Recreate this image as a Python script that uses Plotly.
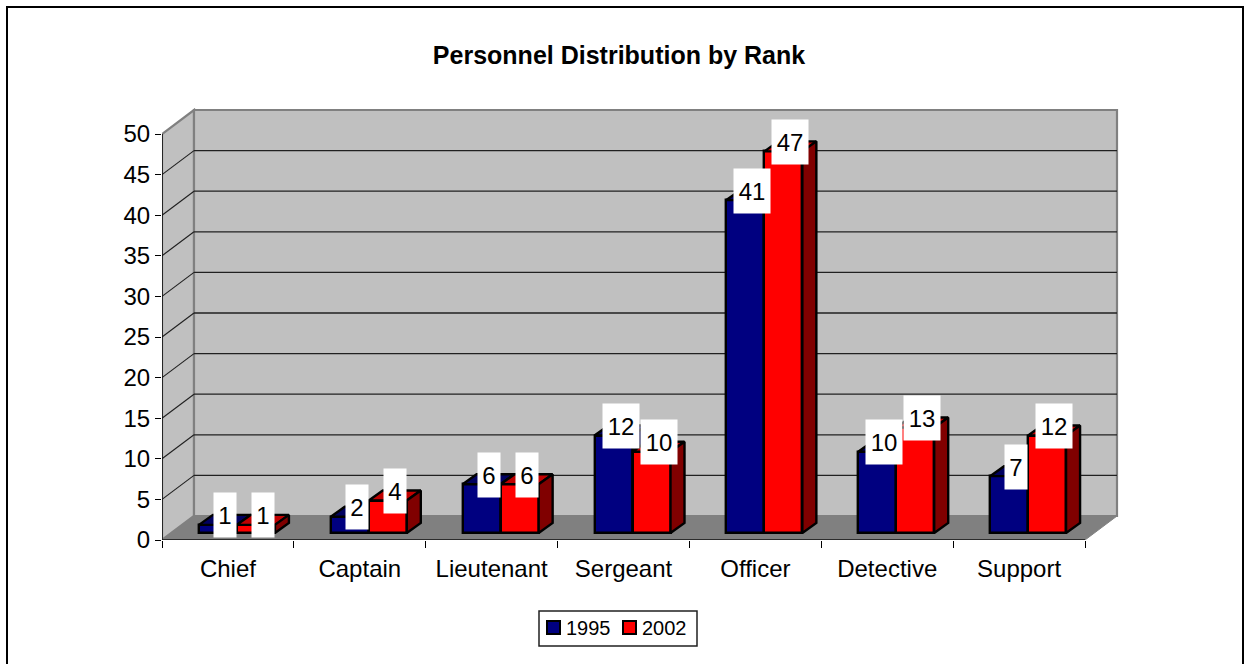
import plotly.graph_objects as go

categories = ["Chief", "Captain", "Lieutenant", "Sergeant", "Officer", "Detective", "Support"]
series_names = ["1995", "2002"]
values_1995 = [1, 2, 6, 12, 41, 10, 7]
values_2002 = [1, 4, 6, 10, 47, 13, 12]
y_ticks = [0, 5, 10, 15, 20, 25, 30, 35, 40, 45, 50]

W, H = 1244, 664
FRONT_L, FRONT_R, FRONT_Y0, FRONT_Y50 = 162, 1085, 540, 134
WALL_DX, WALL_DY = 32, 24
BAR_DX, BAR_DY = 14, 10
BAR_PX = 38
PAD = 4

px_x = (FRONT_R - FRONT_L) / len(categories)
px_y = (FRONT_Y0 - FRONT_Y50) / 50
wall_dx, wall_dy = WALL_DX / px_x, WALL_DY / px_y
bar_dx, bar_dy = BAR_DX / px_x, BAR_DY / px_y
bar_w = BAR_PX / px_x
base = (WALL_DY - BAR_DY) / 2 / px_y
x_shift = (WALL_DX - BAR_DX) / 2 / px_x

plot_right = FRONT_R + WALL_DX + PAD
plot_top = FRONT_Y50 - WALL_DY - PAD
x_range = [0, (plot_right - FRONT_L) / px_x]
y_range = [0, (FRONT_Y0 - plot_top) / px_y]
n = len(categories)

NAVY, RED = "#000080", "#FF0000"
WALL, FLOOR, EDGE = "#C0C0C0", "#808080", "#808080"
FONT = "Liberation Sans, Arial, sans-serif"

plot_w = plot_right - FRONT_L
plot_h = FRONT_Y0 - plot_top


def px2x(p):
    return (p - FRONT_L) / plot_w


def px2y(p):
    return (FRONT_Y0 - p) / plot_h


fig = go.Figure()


def poly_path(pts):
    return "M" + "L".join(f"{a},{b}" for a, b in pts) + "Z"


shapes = [
    dict(type="path", xref="x", yref="y", layer="below", fillcolor=WALL,
         line=dict(color=EDGE, width=2.2),
         path=poly_path([(0, 50), (wall_dx, 50 + wall_dy), (wall_dx, wall_dy), (0, 0)])),
    dict(type="path", xref="x", yref="y", layer="below", fillcolor=WALL,
         line=dict(color=EDGE, width=2.2),
         path=poly_path([(wall_dx, 50 + wall_dy), (n + wall_dx, 50 + wall_dy),
                         (n + wall_dx, wall_dy), (wall_dx, wall_dy)])),
    dict(type="path", xref="x", yref="y", layer="below", fillcolor=FLOOR,
         line=dict(color=FLOOR, width=1),
         path=poly_path([(0, 0), (wall_dx, wall_dy), (n + wall_dx, wall_dy), (n, 0)])),
]
for t in y_ticks[1:-1]:
    shapes.append(dict(type="line", xref="x", yref="y", layer="below",
                       x0=wall_dx, x1=n + wall_dx, y0=t + wall_dy, y1=t + wall_dy,
                       line=dict(color="#202020", width=1.3)))
    shapes.append(dict(type="line", xref="x", yref="y", layer="below",
                       x0=0, x1=wall_dx, y0=t, y1=t + wall_dy,
                       line=dict(color="#202020", width=1.1)))
# outer frame of the chart (its bottom edge runs off the canvas)
shapes.append(dict(type="rect", xref="paper", yref="paper", layer="below",
                   x0=px2x(7), x1=px2x(1243), y0=px2y(672), y1=px2y(7),
                   line=dict(color="black", width=2), fillcolor="rgba(0,0,0,0)"))


def faces(lefts, vals):
    top_x, top_y, side_x, side_y = [], [], [], []
    for xl, v in zip(lefts, vals):
        h = base + v
        xr = xl + bar_w
        top_x += [xl, xr, xr + bar_dx, xl + bar_dx, xl, None]
        top_y += [h, h, h + bar_dy, h + bar_dy, h, None]
        side_x += [xr, xr + bar_dx, xr + bar_dx, xr, xr, None]
        side_y += [h, h + bar_dy, base + bar_dy, base, h, None]
    return top_x, top_y, side_x, side_y


series = [
    (series_names[0], values_1995, NAVY, "#000060", "#000040", 0, "x", "y"),
    (series_names[1], values_2002, RED, "#C00000", "#800000", 1, "x2", "y2"),
]
annotations = []
for name, vals, col, top_col, side_col, k, xa, ya in series:
    lefts = [i + x_shift + 0.5 - bar_w + k * bar_w for i in range(n)]
    centers = [l + bar_w / 2 for l in lefts]
    fig.add_trace(go.Bar(x=centers, y=vals, base=base, width=bar_w, name=name,
                         marker=dict(color=col, line=dict(color="black", width=2.4)),
                         xaxis=xa, yaxis=ya, hoverinfo="skip", showlegend=False))
    tx, ty, sx, sy = faces(lefts, vals)
    fig.add_trace(go.Scatter(x=tx, y=ty, mode="lines", fill="toself", fillcolor=top_col,
                             line=dict(color="black", width=2.4), showlegend=False,
                             hoverinfo="skip", xaxis=xa, yaxis=ya, cliponaxis=False))
    fig.add_trace(go.Scatter(x=sx, y=sy, mode="lines", fill="toself", fillcolor=side_col,
                             line=dict(color="black", width=2.4), showlegend=False,
                             hoverinfo="skip", xaxis=xa, yaxis=ya, cliponaxis=False))
    for c, v in zip(centers, vals):
        annotations.append(dict(x=c, y=base + v, xref="x", yref="y", text=str(v),
                                showarrow=False, bgcolor="white", xshift=7, yshift=9.5,
                                width=22 if v < 10 else 36, height=44,
                                font=dict(family=FONT, size=24, color="black"),
                                xanchor="center", yanchor="middle", borderpad=0))

# front axis lines
fig.add_trace(go.Scatter(x=[0, 0, n], y=[50, 0, 0], mode="lines", line=dict(color="#101010", width=1.6),
                         showlegend=False, hoverinfo="skip", xaxis="x2", yaxis="y2", cliponaxis=False))

# legend box drawn to the reference's compact layout
shapes.append(dict(type="rect", xref="paper", yref="paper", layer="above",
                   x0=px2x(539), x1=px2x(697), y0=px2y(646), y1=px2y(611),
                   line=dict(color="#202020", width=1.5), fillcolor="white"))
for name, col, sw, tx in zip(series_names, [NAVY, RED], [546, 622], [565, 641]):
    shapes.append(dict(type="rect", xref="paper", yref="paper", layer="above",
                       x0=px2x(sw + 1), x1=px2x(sw + 14), y0=px2y(634), y1=px2y(621),
                       line=dict(color="black", width=2), fillcolor=col))
    annotations.append(dict(x=px2x(tx), y=px2y(628), xref="paper", yref="paper", text=name,
                            showarrow=False, xanchor="left", yanchor="middle", borderpad=0,
                            font=dict(family=FONT, size=20, color="black")))

fig.update_layout(
    width=W, height=H, autosize=False, showlegend=False,
    margin=dict(l=FRONT_L, r=W - plot_right, t=plot_top, b=H - FRONT_Y0, pad=0),
    paper_bgcolor="white", plot_bgcolor="rgba(0,0,0,0)",
    barmode="overlay", bargap=0,
    title=dict(text="<b>Personnel Distribution by Rank</b>", x=619 / W, xanchor="center",
               y=1 - 55 / H, yanchor="middle", font=dict(family=FONT, size=25, color="black")),
    font=dict(family=FONT, size=24, color="black"),
    xaxis=dict(range=x_range, tickmode="array", tickvals=[i + 0.5 for i in range(n)], ticktext=categories,
               ticks="", showgrid=False, zeroline=False, showline=False, ticklabelstandoff=12,
               tickfont=dict(family=FONT, size=24, color="black"),
               minor=dict(ticks="outside", tick0=0, dtick=1, ticklen=7, tickwidth=1.3, tickcolor="black", showgrid=False)),
    yaxis=dict(range=y_range, tickmode="array", tickvals=y_ticks, showgrid=False, zeroline=False, showline=False,
               ticks="outside", ticklen=6, tickwidth=1.3, tickcolor="black",
               tickfont=dict(family=FONT, size=24, color="black")),
    xaxis2=dict(range=x_range, overlaying="x", visible=False),
    yaxis2=dict(range=y_range, overlaying="y", visible=False),
    shapes=shapes, annotations=annotations,
)
fig.write_html("out.html", config=dict(displayModeBar=False),
               post_script="document.body.style.margin='0';")
